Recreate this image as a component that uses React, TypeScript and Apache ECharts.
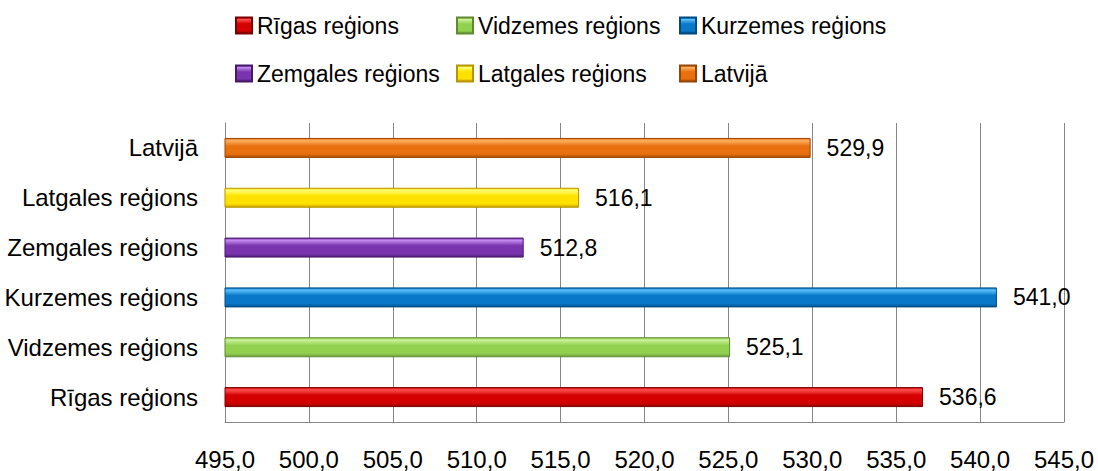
import React, { useEffect, useRef } from "react";
import * as echarts from "echarts";

const categories = [
  "Rīgas reģions",
  "Vidzemes reģions",
  "Kurzemes reģions",
  "Zemgales reģions",
  "Latgales reģions",
  "Latvijā",
];
const values = [536.6, 525.1, 541.0, 512.8, 516.1, 529.9];
const axisTicks = [495, 500, 505, 510, 515, 520, 525, 530, 535, 540, 545];

const palette = [
  { light: "#FF5050", mid: "#D40000", dark: "#8A0000", border: "#7A0000" },
  { light: "#CCF29A", mid: "#92D050", dark: "#6C9C38", border: "#5F8A30" },
  { light: "#5CC0FA", mid: "#0A78C8", dark: "#00538F", border: "#004A80" },
  { light: "#C48AF0", mid: "#7A35AE", dark: "#4F1D77", border: "#46196A" },
  { light: "#FFFF70", mid: "#FFE100", dark: "#C9A400", border: "#B89500" },
  { light: "#FFB060", mid: "#E8700E", dark: "#A84E05", border: "#984604" },
];

const legendPos = [
  { left: 235, top: 14 },
  { left: 456, top: 14 },
  { left: 679, top: 14 },
  { left: 235, top: 62 },
  { left: 456, top: 62 },
  { left: 679, top: 62 },
];

const FONT = "'Liberation Sans', Arial, sans-serif";
const fmt = (v: number) => v.toFixed(1).replace(".", ",");

export default function App() {
  const ref = useRef<HTMLDivElement>(null);
  useEffect(() => {
    document.body.style.margin = "0";
    if (!ref.current) return;
    const chart = echarts.init(ref.current, undefined, { renderer: "svg" });
    const series = categories.map((name, i) => {
      const c = palette[i];
      return {
        name,
        type: "bar",
        barWidth: 20,
        barGap: "-100%",
        data: categories.map((_, j) => (j === i ? values[i] : "-")),
        itemStyle: {
          color: new echarts.graphic.LinearGradient(0, 0, 0, 1, [
            { offset: 0, color: c.mid },
            { offset: 0.12, color: c.light },
            { offset: 0.4, color: c.mid },
            { offset: 0.82, color: c.mid },
            { offset: 1, color: c.dark },
          ]),
          borderColor: c.border,
          borderWidth: 1,
        },
        label: {
          show: true,
          position: "right",
          distance: 16,
          color: "#000",
          fontSize: 23,
          fontFamily: FONT,
          formatter: (p: any) => fmt(p.value),
        },
      };
    });
    chart.setOption({
      animation: false,
      backgroundColor: "#fff",
      legend: categories.map((name, i) => ({
        data: [{ name, icon: "rect" }],
        left: legendPos[i].left,
        top: legendPos[i].top,
        padding: 0,
        itemWidth: 16,
        itemHeight: 16,
        selectedMode: false,
        textStyle: { fontSize: 23, fontFamily: FONT, color: "#000" },
      })),
      grid: { left: 225, right: 34, top: 123, bottom: 48, containLabel: false },
      xAxis: {
        type: "value",
        min: axisTicks[0],
        max: axisTicks[axisTicks.length - 1],
        interval: axisTicks[1] - axisTicks[0],
        axisLine: { show: true, lineStyle: { color: "#868686" } },
        axisTick: { show: false },
        splitLine: { show: true, lineStyle: { color: "#868686", width: 1 } },
        axisLabel: {
          formatter: (v: number) => fmt(v),
          fontSize: 24,
          fontFamily: FONT,
          color: "#000",
          margin: 25,
        },
      },
      yAxis: {
        type: "category",
        data: categories,
        axisLine: { show: true, lineStyle: { color: "#868686" } },
        axisTick: { show: false },
        axisLabel: { fontSize: 24, fontFamily: FONT, color: "#000", margin: 27 },
      },
      series,
    });
    return () => chart.dispose();
  }, []);
  return <div ref={ref} style={{ width: 1098, height: 471 }} />;
}
